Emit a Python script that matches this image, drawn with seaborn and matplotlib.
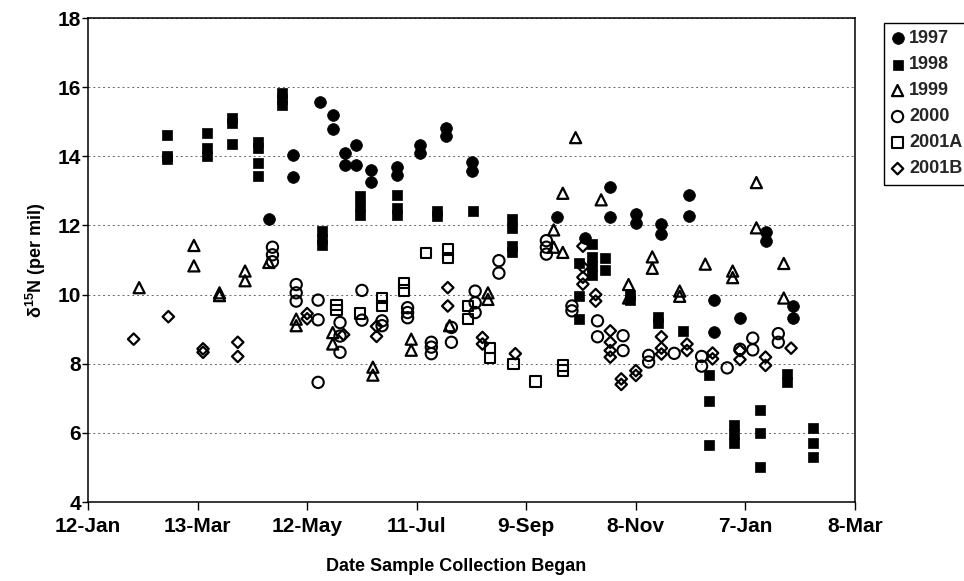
import numpy as np
import pandas as pd
import matplotlib
matplotlib.use('Agg')
import matplotlib.pyplot as plt
import seaborn as sns

# x values are days after 12-Jan of the sampling year (season runs into next March)
days_1997 = [99, 112, 112, 127, 134, 134, 141, 141, 147, 147, 155, 155, 169, 169,
             182, 182, 196, 196, 210, 210, 257, 272, 286, 286, 300, 300, 314, 314,
             329, 329, 343, 343, 357, 371, 371, 386, 386]
n15_1997 = [12.2, 14.03, 13.41, 15.58, 15.19, 14.78, 14.1, 13.75, 14.32, 13.75, 13.61, 13.26,
            13.68, 13.46, 14.32, 14.1, 14.83, 14.59, 13.83, 13.58, 12.23, 11.65, 13.12, 12.25,
            12.32, 12.07, 12.05, 11.74, 12.87, 12.28, 9.83, 8.91, 9.33, 11.8, 11.55, 9.67, 9.33]

days_1998 = [43, 43, 43, 65, 65, 65, 79, 79, 79, 93, 93, 93, 93, 106, 106, 106,
             128, 128, 128, 149, 149, 149, 169, 169, 169, 191, 191, 211, 232, 232, 232, 232,
             269, 269, 269, 276, 276, 276, 276, 283, 283, 297, 297, 312, 312, 326,
             340, 340, 340, 354, 354, 354, 368, 368, 368, 383, 383, 397, 397, 397]
n15_1998 = [14.61, 14.01, 13.92, 14.67, 14.25, 14.0, 15.12, 14.97, 14.35, 14.4, 14.25, 13.82, 13.44,
            15.83, 15.65, 15.49, 11.83, 11.6, 11.43, 12.84, 12.57, 12.3, 12.88, 12.49, 12.31,
            12.41, 12.26, 12.42, 12.19, 11.92, 11.4, 11.24, 10.9, 9.97, 9.29, 11.46, 11.1, 10.84,
            10.56, 11.06, 10.71, 10.0, 9.85, 9.36, 9.19, 8.95, 7.66, 6.93, 5.65, 6.22, 5.98, 5.72,
            6.65, 6.0, 5.0, 7.69, 7.48, 6.13, 5.7, 5.31]

days_1999 = [28, 58, 58, 72, 72, 86, 86, 99, 114, 114, 134, 134, 156, 156, 177, 177, 198,
             219, 219, 255, 255, 260, 260, 267, 281, 296, 296, 309, 309, 324, 324, 338,
             353, 353, 366, 366, 381, 381]
n15_1999 = [10.2, 11.42, 10.83, 10.05, 9.97, 10.68, 10.4, 10.93, 9.29, 9.1, 8.9, 8.57, 7.9, 7.67,
            8.71, 8.39, 9.1, 10.05, 9.86, 11.87, 11.37, 12.93, 11.22, 14.54, 12.74, 10.29, 9.9,
            11.09, 10.76, 10.1, 9.95, 10.88, 10.68, 10.49, 13.24, 11.93, 10.9, 9.9]

days_2000 = [101, 101, 101, 114, 114, 114, 126, 126, 126, 138, 138, 138, 150, 150, 161, 161,
             175, 175, 175, 188, 188, 188, 199, 199, 212, 212, 212, 225, 225, 251, 251, 251,
             265, 265, 279, 279, 293, 293, 307, 307, 321, 336, 336, 350, 357, 364, 364, 378, 378]
n15_2000 = [11.37, 11.15, 10.95, 10.29, 10.05, 9.81, 9.84, 9.27, 7.46, 9.19, 8.8, 8.33, 10.12, 9.26,
            9.24, 9.1, 9.62, 9.48, 9.33, 8.62, 8.48, 8.29, 9.05, 8.62, 10.1, 9.76, 9.48, 10.98, 10.62,
            11.56, 11.37, 11.17, 9.67, 9.53, 9.24, 8.78, 8.81, 8.38, 8.24, 8.05, 8.3, 8.21, 7.93,
            7.88, 8.42, 8.74, 8.4, 8.87, 8.62]

days_2001a = [136, 136, 149, 161, 161, 173, 173, 185, 197, 197, 208, 208, 220, 220, 233, 245, 260, 260]
n15_2001a = [9.7, 9.55, 9.45, 9.9, 9.67, 10.34, 10.12, 11.2, 11.3, 11.05, 9.67, 9.3, 8.45, 8.17,
             8.0, 7.49, 7.95, 7.8]

days_2001b = [25, 44, 63, 63, 82, 82, 120, 120, 140, 158, 158, 197, 197, 216, 216, 234,
              271, 271, 271, 271, 278, 278, 286, 286, 286, 286, 292, 292, 300, 300,
              314, 314, 314, 328, 328, 342, 342, 357, 357, 371, 371, 385]
n15_2001b = [8.71, 9.36, 8.43, 8.33, 8.62, 8.21, 9.45, 9.3, 8.84, 9.08, 8.79, 10.2, 9.67, 8.76, 8.57,
             8.29, 11.4, 10.8, 10.5, 10.3, 10.0, 9.81, 8.95, 8.62, 8.38, 8.19, 7.56, 7.4, 7.8, 7.66,
             8.78, 8.45, 8.28, 8.57, 8.38, 8.31, 8.14, 8.38, 8.12, 8.19, 7.95, 8.45]

years = ['1997', '1998', '1999', '2000', '2001A', '2001B']
all_days = [days_1997, days_1998, days_1999, days_2000, days_2001a, days_2001b]
all_vals = [n15_1997, n15_1998, n15_1999, n15_2000, n15_2001a, n15_2001b]

base = pd.Timestamp('2001-01-12')
frames = []
for yr, d, v in zip(years, all_days, all_vals):
    frames.append(pd.DataFrame({'date': base + pd.to_timedelta(d, unit='D'),
                                'd15N': v, 'year': yr}))
df = pd.concat(frames, ignore_index=True)

# marker look per year (filled for 1997/1998, hollow for the rest)
styles = {
    '1997': dict(marker='o', s=72, color='black', edgecolor='black', linewidth=0.5),
    '1998': dict(marker='s', s=62, color='black', edgecolor='black', linewidth=0.5),
    '1999': dict(marker='^', s=64, color='none', edgecolor='black', linewidth=1.6),
    '2000': dict(marker='o', s=66, color='none', edgecolor='black', linewidth=1.5),
    '2001A': dict(marker='s', s=56, color='none', edgecolor='black', linewidth=1.5),
    '2001B': dict(marker='D', s=34, color='none', edgecolor='black', linewidth=1.6),
}

sns.set_theme(style='ticks')
plt.rcParams['font.family'] = ['Liberation Sans', 'DejaVu Sans']
plt.rcParams['font.weight'] = 'bold'
plt.rcParams['axes.labelweight'] = 'bold'
plt.rcParams['mathtext.fontset'] = 'custom'
plt.rcParams['mathtext.bf'] = 'Liberation Sans:bold'
plt.rcParams['mathtext.rm'] = 'Liberation Sans:bold'
plt.rcParams['mathtext.default'] = 'bf'

fig = plt.figure(figsize=(9.64, 5.81), dpi=100)
ax = fig.add_axes([88 / 964, 1 - 502 / 581, (855 - 88) / 964, (502 - 18) / 581])

for yr in years:
    sub = df[df['year'] == yr]
    sns.scatterplot(data=sub, x='date', y='d15N', ax=ax, label=yr, **styles[yr])

ticks = pd.date_range(base, periods=8, freq='60D')
ax.set_xlim(ticks[0], ticks[-1])
ax.set_xticks(ticks)
ax.set_xticklabels([f'{t.day}-{t:%b}' for t in ticks])
ax.set_ylim(4, 18)
ax.set_yticks(np.arange(4, 19, 2))

ax.yaxis.grid(True, linestyle=(0, (2, 3)), color='0.4', linewidth=0.7)
ax.set_axisbelow(True)
for sp in ax.spines.values():
    sp.set_visible(True)
    sp.set_color('black')
    sp.set_linewidth(1.1)
ax.tick_params(axis='both', direction='out', width=1, color='black',
               labelsize=15, labelcolor='black')
ax.tick_params(axis='x', length=6, pad=5)
ax.tick_params(axis='y', length=4, pad=1)

ax.set_xlabel('Date Sample Collection Began', fontsize=13, color='black')
ax.set_ylabel('δ$^{15}$N (per mil)', fontsize=13, color='black')
ax.xaxis.set_label_coords(0.48, -0.115)
ax.yaxis.set_label_coords(-0.052, 0.5)

leg = ax.legend(loc='upper left', bbox_to_anchor=(884 / 964, 1 - 23 / 581),
                bbox_transform=fig.transFigure, borderaxespad=0, frameon=True,
                fancybox=False, edgecolor='black', framealpha=1,
                prop={'weight': 'bold', 'size': 13}, markerscale=1.0,
                handlelength=0.7, handletextpad=0.3, labelspacing=0.5, borderpad=0.4)
leg.get_frame().set_linewidth(1.0)

fig.savefig('out.png', dpi=100)
